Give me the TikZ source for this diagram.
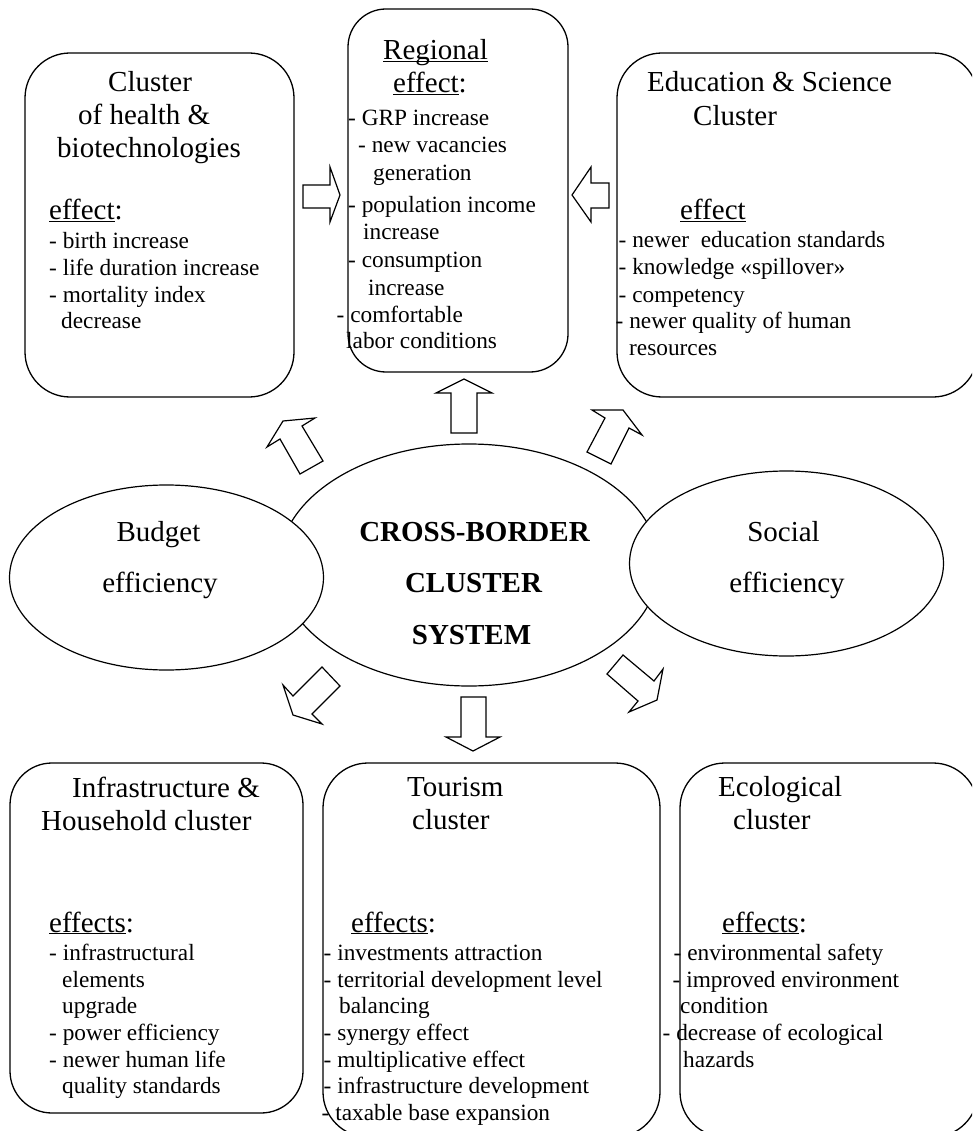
\documentclass[tikz,border=0pt]{standalone}
\usepackage{fontspec}
\setmainfont{Liberation Serif}
\usetikzlibrary{shapes.geometric}
\newcommand\ulw[1]{\underline{\smash{#1}}}
\newcommand\tlab[5]{\node[#1,anchor=base west] (#2) at (#3,#4) {#5};}
\newcommand\clab[5]{\node[#1,anchor=base] (#2) at (#3,#4) {#5};}
\begin{document}
\begin{tikzpicture}[x=1pt,y=-1pt,
  cbox/.style={draw,line width=1.3pt,rounded corners=#1,inner sep=0pt},
  oval/.style={draw,ellipse,line width=1.2pt,fill=white,inner sep=0pt},
  blockarrow/.style={draw,line width=1.2pt,fill=white,line join=miter},
  ttl/.style={inner sep=0pt,font=\fontsize{29}{33}\selectfont},
  itm/.style={inner sep=0pt,font=\fontsize{23.3}{27}\selectfont},
  bld/.style={inner sep=0pt,font=\fontsize{29}{33}\selectfont\bfseries}]
\useasboundingbox (0,0) rectangle (972,1131);
\clip (0,0) rectangle (972,1131);
\fill[white] (0,0) rectangle (972,1131);

% boxes
\node[cbox=45,minimum width=269pt,minimum height=344pt] (health) at (159.5,225) {};
\node[cbox=38,minimum width=220pt,minimum height=363pt] (regional) at (458,190.5) {};
\node[cbox=45,minimum width=361pt,minimum height=344pt] (edu) at (797.5,225) {};
\node[cbox=42,minimum width=293pt,minimum height=350pt] (infra) at (156.5,938) {};
\node[cbox=45,minimum width=337pt,minimum height=374pt] (tourism) at (491.5,950) {};
\node[cbox=45,minimum width=298pt,minimum height=374pt] (eco) at (829,950) {};

% ellipses
\node[oval,minimum width=380pt,minimum height=242pt] (core) at (469,565) {};
\node[oval,minimum width=314pt,minimum height=185pt] (budget) at (166.5,577.5) {};
\node[oval,minimum width=314pt,minimum height=185pt] (social) at (786.5,563.5) {};

% block arrows
\draw[blockarrow] (303,185) -- (330,185) -- (330,167) -- (340,195) -- (330,222) -- (330,208) -- (303,208) -- cycle;
\draw[blockarrow] (609,183) -- (591,183) -- (591,167) -- (572,195) -- (591,222) -- (591,208) -- (609,208) -- cycle;
\draw[blockarrow] (451,433) -- (451,393) -- (436,393) -- (464,379) -- (492,393) -- (477,393) -- (477,433) -- cycle;
\draw[blockarrow] (283,421) -- (315,418) -- (302,426) -- (323,461) -- (300,474) -- (280,439) -- (267,447) -- cycle;
\draw[blockarrow] (592,410) -- (623,410) -- (642,435) -- (629,428) -- (611,464) -- (587,452) -- (605,418) -- cycle;
\draw[blockarrow] (322,667) -- (340,686) -- (312,714) -- (322,724) -- (293,715) -- (283,685) -- (293,696) -- cycle;
\draw[blockarrow] (623,655) -- (654,681) -- (663,669) -- (657,700) -- (629,712) -- (638,701) -- (607,674) -- cycle;
\draw[blockarrow] (461,697) -- (486,697) -- (486,737) -- (500,737) -- (473,751) -- (446,737) -- (461,737) -- cycle;

% ellipse texts
\clab{ttl}{bu1}{158.5}{541}{Budget}
\clab{ttl}{bu2}{160}{592}{efficiency}
\clab{ttl}{so1}{783.5}{541}{Social}
\clab{ttl}{so2}{787}{592}{efficiency}
\clab{bld}{co1}{474.5}{541}{CROSS-BORDER}
\clab{bld}{co2}{473.5}{592}{CLUSTER}
\clab{bld}{co3}{471.5}{644}{SYSTEM}

% health box
\tlab{ttl}{h1}{108}{92}{Cluster}
\tlab{ttl}{h2}{78}{125}{of health \&}
\tlab{ttl}{h3}{57}{158}{biotechnologies}
\tlab{ttl}{h4}{49}{220}{\ulw{effect}:}
\tlab{itm}{h5}{49}{249}{- birth increase}
\tlab{itm}{h6}{49}{276}{- life duration increase}
\tlab{itm}{h7}{49}{302}{- mortality index}
\tlab{itm}{h8}{61}{328}{decrease}

% regional box
\tlab{ttl}{r1}{383}{60}{\ulw{Regional}}
\tlab{ttl}{r2}{393}{93}{\ulw{effect}:}
\tlab{itm}{r3}{348}{126}{- GRP increase}
\tlab{itm}{r4}{358}{153}{- new vacancies}
\tlab{itm}{r5}{373}{181}{generation}
\tlab{itm}{r6}{348}{213}{- population income}
\tlab{itm}{r7}{363}{240}{increase}
\tlab{itm}{r8}{348}{268}{- consumption}
\tlab{itm}{r9}{368}{295}{increase}
\tlab{itm}{r10}{336.5}{322}{- comfortable}
\tlab{itm}{r11}{346}{348}{labor conditions}

% education box
\tlab{ttl}{e1}{647}{92}{Education \& Science}
\tlab{ttl}{e2}{693}{126}{Cluster}
\tlab{ttl}{e3}{680}{220}{\ulw{effect}}
\tlab{itm}{e4}{618.5}{248}{- newer\ \ education standards}
\tlab{itm}{e5}{618.5}{275}{- knowledge «spillover»}
\tlab{itm}{e6}{618.5}{302}{- competency}
\tlab{itm}{e7}{615.5}{328}{- newer quality of human}
\tlab{itm}{e8}{629}{355}{resources}

% infrastructure box
\tlab{ttl}{i1}{72}{797}{Infrastructure \&}
\tlab{ttl}{i2}{41}{830}{Household cluster}
\tlab{ttl}{i3}{49}{932}{\ulw{effects}:}
\tlab{itm}{i4}{49}{960}{- infrastructural}
\tlab{itm}{i5}{62}{987}{elements}
\tlab{itm}{i6}{62}{1013}{upgrade}
\tlab{itm}{i7}{49}{1040}{- power efficiency}
\tlab{itm}{i8}{49}{1067}{- newer human life}
\tlab{itm}{i9}{62}{1093}{quality standards}

% tourism box
\tlab{ttl}{o1}{407}{796}{Tourism}
\tlab{ttl}{o2}{412}{829}{cluster}
\tlab{ttl}{o3}{351}{932}{\ulw{effects}:}
\tlab{itm}{o4}{323.5}{960}{- investments attraction}
\tlab{itm}{o5}{323.5}{987}{- territorial development level}
\tlab{itm}{o6}{339}{1013}{balancing}
\tlab{itm}{o7}{323.5}{1040}{- synergy effect}
\tlab{itm}{o8}{323.5}{1067}{- multiplicative effect}
\tlab{itm}{o9}{323.5}{1093}{- infrastructure development}
\tlab{itm}{o10}{321.5}{1120}{- taxable base expansion}

% ecological box
\tlab{ttl}{c1}{718}{796}{Ecological}
\tlab{ttl}{c2}{733}{829}{cluster}
\tlab{ttl}{c3}{722}{932}{\ulw{effects}:}
\tlab{itm}{c4}{673.5}{960}{- environmental safety}
\tlab{itm}{c5}{672.5}{987}{- improved environment}
\tlab{itm}{c6}{680}{1013}{condition}
\tlab{itm}{c7}{662.5}{1040}{- decrease of ecological}
\tlab{itm}{c8}{683}{1067}{hazards}
\end{tikzpicture}
\end{document}
